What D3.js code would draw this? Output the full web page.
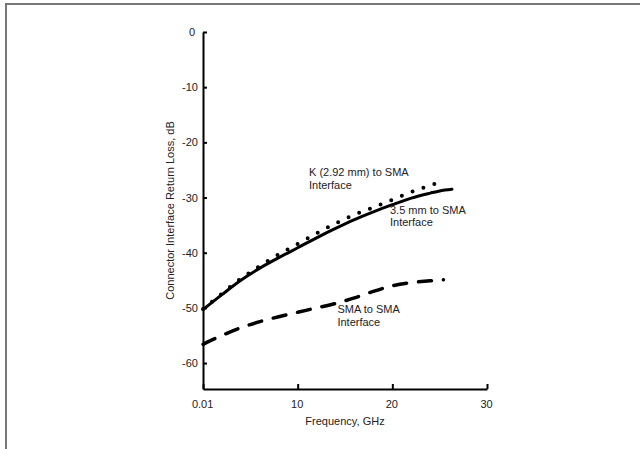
<!DOCTYPE html>
<html>
<head>
<meta charset="utf-8">
<script src="https://cdn.jsdelivr.net/npm/d3@7"></script>
<style>
  html, body { margin: 0; padding: 0; background: #fff; }
  svg { display: block; }
  text { font-family: "Liberation Sans", Arial, sans-serif; fill: #222; }
</style>
</head>
<body>
<svg id="chart" width="640" height="449"></svg>
<script>
// ---- data ----
const xTicks = [0.01, 10, 20, 30];
const xTickLabels = ["0.01", "10", "20", "30"];
const yTicks = [0, -10, -20, -30, -40, -50, -60];

const kFreq   = [0.01, 2, 4, 6, 8, 10, 12, 14, 16, 18, 20, 22, 24, 25.6];
const kLoss   = [-50.2, -47.4, -44.7, -42.4, -40.3, -38.4, -36.5, -34.7, -33.1, -31.8, -30.4, -29.0, -27.8, -27.0];

const mm35Freq = [0.01, 2, 4, 6, 8, 10, 12, 14, 16, 18, 20, 22, 24, 25, 26.3];
const mm35Loss = [-50.3, -47.6, -45.0, -42.8, -40.9, -39.1, -37.3, -35.6, -34.0, -32.6, -31.3, -30.1, -29.2, -28.8, -28.5];

const smaFreq = [0.01, 2, 4, 6, 8, 10, 12, 14, 16, 18, 20, 22, 24, 25.4];
const smaLoss = [-56.6, -55.0, -53.6, -52.5, -51.6, -50.8, -50.0, -49.2, -48.2, -47.0, -46.0, -45.4, -45.1, -44.9];

const labels = [
  { lines: ["K (2.92 mm) to SMA", "Interface"], f: 11.2, db: -26.1 },
  { lines: ["3.5 mm to SMA", "Interface"], f: 19.75, db: -32.9 },
  { lines: ["SMA to SMA", "Interface"], f: 14.2, db: -51.0 }
];

// ---- drawing ----
const svg = d3.select("#chart");

// frame
svg.append("path")
  .attr("d", "M6,449 V4 H640")
  .attr("fill", "none").attr("stroke", "#777").attr("stroke-width", 2);

const x = d3.scaleLinear().domain([0, 30]).range([203, 487]);
const y = d3.scaleLinear().domain([0, -64.7]).range([32, 389]);

// axes
const xAxis = d3.axisBottom(x)
  .tickValues(xTicks)
  .tickFormat((d, i) => xTickLabels[i])
  .tickSizeInner(-5).tickSizeOuter(0).tickPadding(11);
const gx = svg.append("g").attr("transform", `translate(0,${y(-64.7)})`).call(xAxis);

const yAxis = d3.axisLeft(y)
  .tickValues(yTicks)
  .tickFormat(d => String(d))
  .tickSizeInner(-4).tickSizeOuter(0).tickPadding(5);
const gy = svg.append("g").attr("transform", `translate(${x(0)},0)`).call(yAxis);

[gx, gy].forEach(g => {
  g.select(".domain").attr("stroke", "#000").attr("stroke-width", 2);
  g.selectAll(".tick line").attr("stroke", "#000").attr("stroke-width", 2);
  g.selectAll(".tick text").attr("font-size", 11).attr("fill", "#222")
    .attr("font-family", "Liberation Sans, Arial, sans-serif");
});
gy.selectAll(".tick text").filter(d => d === 0).attr("dx", -3);
gx.selectAll(".tick text").attr("dx", -1);

// axis titles
svg.append("text")
  .attr("x", 345).attr("y", 425)
  .attr("text-anchor", "middle").attr("font-size", 11)
  .text("Frequency, GHz");
svg.append("text")
  .attr("transform", `translate(174,${(32 + 389) / 2}) rotate(-90)`)
  .attr("text-anchor", "middle").attr("font-size", 11)
  .text("Connector Interface Return Loss, dB");

// lines
const line = d3.line().curve(d3.curveMonotoneX)
  .x(d => x(d[0])).y(d => y(d[1]));

const series = [
  { f: kFreq, v: kLoss, width: 4, dash: "0 11.5", cap: "round" },
  { f: mm35Freq, v: mm35Loss, width: 3, dash: null, cap: "round" },
  { f: smaFreq, v: smaLoss, width: 3.5, dash: "13 12", cap: "round" }
];
series.forEach(s => {
  svg.append("path")
    .datum(d3.zip(s.f, s.v))
    .attr("d", line)
    .attr("fill", "none")
    .attr("stroke", "#000")
    .attr("stroke-width", s.width)
    .attr("stroke-linecap", s.cap)
    .attr("stroke-dasharray", s.dash);
});

// annotations
labels.forEach(l => {
  const t = svg.append("text")
    .attr("x", x(l.f)).attr("y", y(l.db))
    .attr("font-size", 11);
  l.lines.forEach((s, i) => {
    t.append("tspan").attr("x", x(l.f)).attr("dy", i === 0 ? 0 : 12.5).text(s);
  });
});
</script>
</body>
</html>
